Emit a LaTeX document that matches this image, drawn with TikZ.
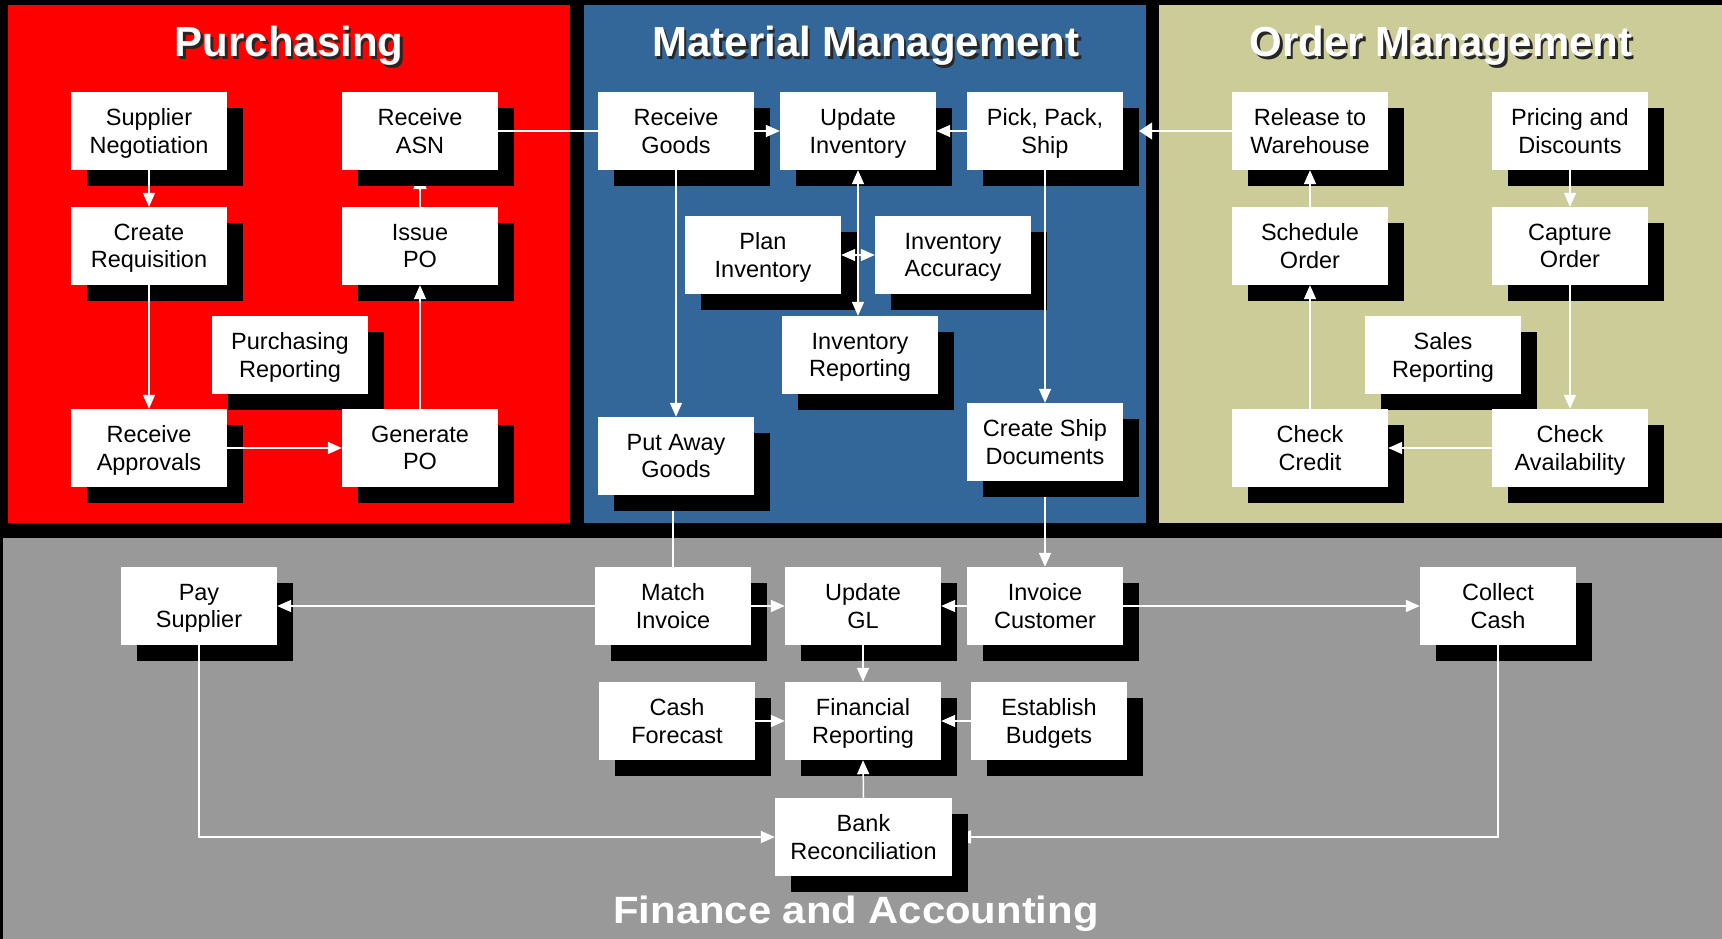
\documentclass[tikz,border=0pt]{standalone}
\usepackage{fontspec}
\setmainfont{Liberation Sans}
\usepackage{graphicx}
\usetikzlibrary{arrows.meta,shadows,calc}
\pgfdeclarelayer{bg}
\pgfdeclarelayer{lowest}
\pgfdeclarelayer{low}
\pgfsetlayers{bg,lowest,low,main}
\definecolor{pred}{RGB}{255,0,0}
\definecolor{mblue}{RGB}{51,102,153}
\definecolor{olivebg}{RGB}{204,204,153}
\definecolor{fgray}{RGB}{153,153,153}
\begin{document}
\begin{tikzpicture}[x=1pt,y=-1pt,
  box/.style={fill=white, minimum width=156pt, minimum height=78pt, inner sep=0pt,
    align=center, font=\fontsize{23.5}{27.5}\selectfont, text depth=0pt,
    general shadow={fill=black, shadow xshift=16pt, shadow yshift=-16pt}},
  conn/.style={draw=white, line width=1.5pt},
  arr/.style={conn, -{Triangle[length=14pt,width=12pt]}},
  darr/.style={conn, {Triangle[length=14pt,width=12pt]}-{Triangle[length=14pt,width=12pt]}},
  harr/.style={conn, -{Triangle[length=19pt,width=13pt]}},
  title/.style={anchor=base, text=white, font=\fontsize{42}{50}\selectfont\bfseries, inner sep=0pt},
  tshadow/.style={title, text=black!85}
]
\useasboundingbox (0,0) rectangle (1722,939);
\begin{pgfonlayer}{bg}
\fill[black] (0,0) rectangle (1722,939);
\fill[pred] (8,5) rectangle (570,523);
\fill[mblue] (584,5) rectangle (1146,523);
\fill[olivebg] (1159,5) rectangle (1722,523);
\fill[fgray] (3,538) rectangle (1722,939);
\end{pgfonlayer}

% titles
\node[tshadow] (t1s) at (291.5,59.5) {Purchasing};
\node[title] (t1) at (289,57) {Purchasing};
\node[tshadow] (t2s) at (868.5,59.5) {Material Management};
\node[title] (t2) at (866,57) {Material Management};
\node[tshadow] (t3s) at (1443.5,59.5) {Order Management};
\node[title] (t3) at (1441,57) {Order Management};
\node[title, font=\fontsize{38}{46}\selectfont\bfseries] (t4) at (856,923) {\scalebox{1.1}[1]{Finance and Accounting}};

% Purchasing
\node[box] (SN) at (149,131) {Supplier\\Negotiation};
\node[box] (ASN) at (420,131) {Receive\\ASN};
\node[box] (CR) at (149,246) {Create\\Requisition};
\node[box] (IPO) at (420,246) {Issue\\PO};
\node[box] (PR) at (290,355) {Purchasing\\Reporting};
\node[box] (RA) at (149,448) {Receive\\Approvals};
\node[box] (GPO) at (420,448) {Generate\\PO};

% Material management
\node[box] (RG) at (676,131) {Receive\\Goods};
\node[box] (UI) at (858,131) {Update\\Inventory};
\node[box] (PPS) at (1045,131) {Pick, Pack,\\Ship};
\node[box] (PI) at (763,255) {Plan\\Inventory};
\node[box] (IA) at (953,255) {Inventory\\Accuracy};
\node[box] (IR) at (860,355) {Inventory\\Reporting};
\node[box] (PAG) at (676,456) {Put Away\\Goods};
\node[box] (CSD) at (1045,442) {Create Ship\\Documents};

% Order management
\node[box] (RW) at (1310,131) {Release to\\Warehouse};
\node[box] (PD) at (1570,131) {Pricing and\\Discounts};
\node[box] (SO) at (1310,246) {Schedule\\Order};
\node[box] (CO) at (1570,246) {Capture\\Order};
\node[box] (SR) at (1443,355) {Sales\\Reporting};
\node[box] (CC) at (1310,448) {Check\\Credit};
\node[box] (CA) at (1570,448) {Check\\Availability};

% Finance
\node[box] (PS) at (199,606) {Pay\\Supplier};
\node[box] (MI) at (673,606) {Match\\Invoice};
\node[box] (UGL) at (863,606) {Update\\GL};
\node[box] (IC) at (1045,606) {Invoice\\Customer};
\begin{pgfonlayer}{lowest}
\node[box] (CLC) at (1498,606) {Collect\\Cash};
\end{pgfonlayer}
\node[box] (CF) at (677,721) {Cash\\Forecast};
\node[box] (FR) at (863,721) {Financial\\Reporting};
\node[box] (EB) at (1049,721) {Establish\\Budgets};
\node[box, minimum width=177pt] (BR) at (863.5,837) {Bank\\Reconciliation};

% connectors partly hidden under shadows
\begin{pgfonlayer}{low}
\draw[harr] (IPO.north) -- (ASN.south);
\draw[conn] (MI.north |- PAG.south) -- (MI.north);
\draw[arr] (CSD.south) -- (IC.north);
\draw[harr] (CLC.south) |- (BR.east);
\end{pgfonlayer}

% Purchasing connectors
\draw[arr] (SN.south) -- (CR.north);
\draw[arr] (CR.south) -- (RA.north);
\draw[arr] (RA.east) -- (GPO.west);
\draw[arr] (GPO.north) -- (IPO.south);
\draw[conn] (ASN.east) -- (RG.west);

% Material management connectors
\draw[arr] (RG.east) -- (UI.west);
\draw[arr] (PPS.west) -- (UI.east);
\draw[conn, -{Triangle[length=13pt,width=17pt]}, shorten >=16pt] (RW.west) -- (PPS.east);
\draw[darr] (UI.south) -- (UI.south |- IR.north);
\draw[darr] (PI.east) -- (IA.west);
\draw[arr] (RG.south) -- (PAG.north);
\draw[arr] (PPS.south) -- (CSD.north);

% Order management connectors
\draw[arr] (SO.north) -- (RW.south);
\draw[arr] (CC.north) -- (SO.south);
\draw[arr] (CA.west) -- (CC.east);
\draw[arr] (CO.south) -- (CA.north);
\draw[arr] (PD.south) -- (CO.north);

% Finance connectors
\draw[arr] (MI.west) -- (PS.east);
\draw[arr] (MI.east) -- (UGL.west);
\draw[arr] (IC.west) -- (UGL.east);
\draw[arr] (IC.east) -- (CLC.west);
\draw[arr] (UGL.south) -- (FR.north);
\draw[arr] (CF.east) -- (FR.west);
\draw[arr] (EB.west) -- (FR.east);
\draw[arr] (BR.north) -- (FR.south);
\draw[arr] (PS.south) |- (BR.west);
\end{tikzpicture}
\end{document}
